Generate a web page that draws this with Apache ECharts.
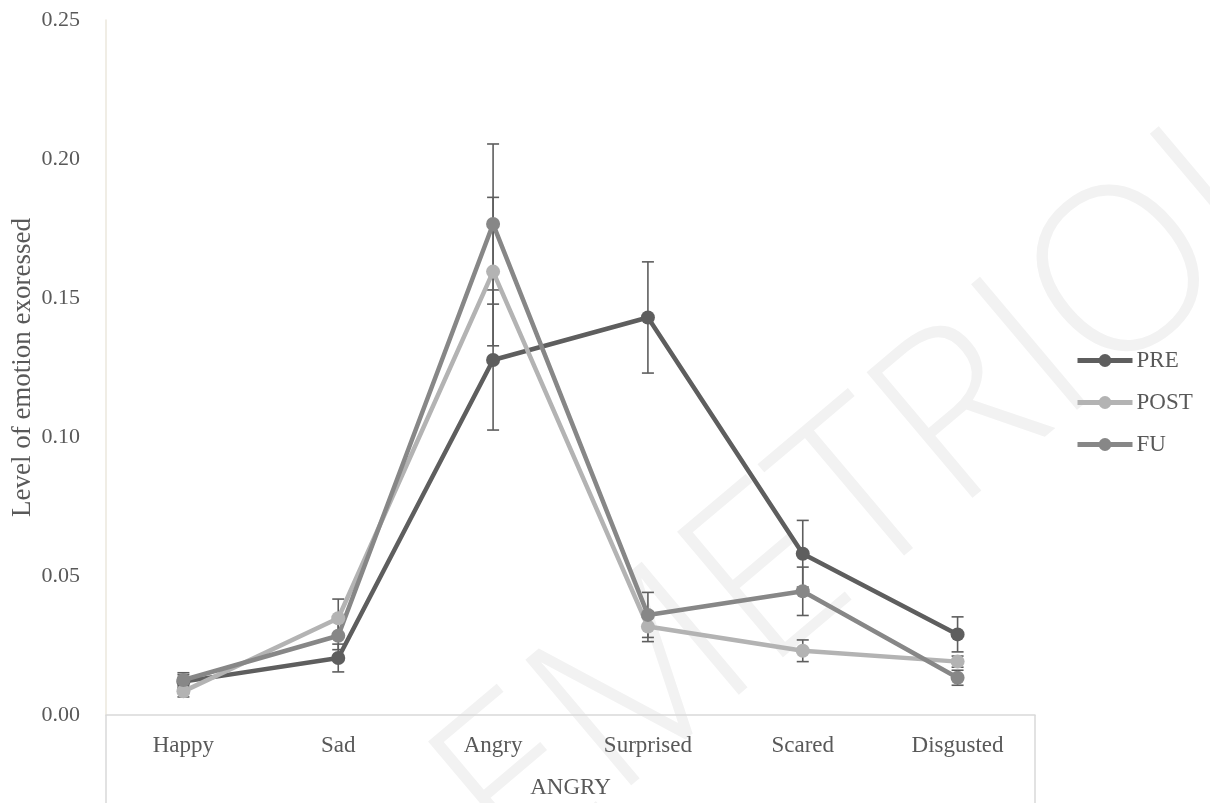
<!DOCTYPE html>
<html>
<head>
<meta charset="utf-8">
<script src="https://cdn.jsdelivr.net/npm/echarts@6/dist/echarts.min.js"></script>
<style>html,body{margin:0;padding:0;background:#fff;}#c{width:1210px;height:803px;}</style>
</head>
<body>
<div id="c"></div>
<script>
var categories = ['Happy', 'Sad', 'Angry', 'Surprised', 'Scared', 'Disgusted'];
var seriesNames = ['PRE', 'POST', 'FU'];
var preValues  = [0.0120, 0.0205, 0.1277, 0.1430, 0.0580, 0.0290];
var preErr     = [0.0025, 0.0050, 0.0252, 0.0200, 0.0120, 0.0063];
var postValues = [0.0085, 0.0348, 0.1595, 0.0318, 0.0231, 0.0192];
var postErr    = [0.0020, 0.0069, 0.0267, 0.0054, 0.0039, 0.0020];
var fuValues   = [0.0126, 0.0285, 0.1766, 0.0360, 0.0445, 0.0134];
var fuErr      = [0.0026, 0.0050, 0.0288, 0.0081, 0.0087, 0.0027];
var yTicks = { min: 0, max: 0.25, interval: 0.05 };
var xTitle = 'ANGRY';
var yTitle = 'Level of emotion exoressed';
var watermark = 'EMETRIOL';

var colors = ['#5e5e5e', '#b3b3b3', '#878787'];
var FONT = 'Liberation Serif';
var TXT = '#595959';

function errData(vals, errs) {
  return vals.map(function (v, i) { return [i, v, errs[i]]; });
}
function errSeries(vals, errs) {
  return {
    type: 'custom',
    z: 1,
    silent: true,
    data: errData(vals, errs),
    encode: { x: 0, y: 1 },
    renderItem: function (params, api) {
      var x = api.value(0), y = api.value(1), e = api.value(2);
      var top = api.coord([x, y + e]);
      var bot = api.coord([x, y - e]);
      var w = 6;
      var st = { stroke: '#5e5e5e', lineWidth: 1.6 };
      return {
        type: 'group',
        children: [
          { type: 'line', shape: { x1: top[0], y1: top[1], x2: bot[0], y2: bot[1] }, style: st },
          { type: 'line', shape: { x1: top[0] - w, y1: top[1], x2: top[0] + w, y2: top[1] }, style: st },
          { type: 'line', shape: { x1: bot[0] - w, y1: bot[1], x2: bot[0] + w, y2: bot[1] }, style: st }
        ]
      };
    }
  };
}
function lineSeries(name, vals, color) {
  return {
    name: name,
    type: 'line',
    z: 3,
    data: vals,
    symbol: 'circle',
    symbolSize: 14,
    lineStyle: { width: 4.5, color: color },
    itemStyle: { color: color },
    emphasis: { disabled: true }
  };
}

var chart = echarts.init(document.getElementById('c'));
chart.setOption({
  animation: false,
  backgroundColor: '#fff',
  textStyle: { fontFamily: FONT },
  grid: { left: 106, right: 175, top: 20, bottom: 88, containLabel: false, outerBoundsMode: 'none' },
  legend: {
    orient: 'vertical',
    left: 1075,
    top: 349,
    padding: 0,
    itemWidth: 55,
    itemHeight: 16,
    itemGap: 19,
    data: seriesNames,
    lineStyle: { width: 5 },
    textStyle: { fontFamily: FONT, fontSize: 23, lineHeight: 22, color: TXT, padding: [0, 0, 0, -1] }
  },
  xAxis: {
    type: 'category',
    data: categories,
    boundaryGap: true,
    axisLine: { lineStyle: { color: '#d9d9d9', width: 1.5 } },
    axisTick: { show: false },
    axisLabel: { fontFamily: FONT, fontSize: 23, color: TXT, margin: 19 },
    name: xTitle,
    nameLocation: 'middle',
    nameGap: 61,
    nameMoveOverlap: false,
    nameTextStyle: { fontFamily: FONT, fontSize: 23, color: TXT }
  },
  yAxis: {
    type: 'value',
    min: yTicks.min,
    max: yTicks.max,
    interval: yTicks.interval,
    axisLine: { show: true, lineStyle: { color: '#ebe7dc', width: 1.5 } },
    axisTick: { show: false },
    splitLine: { show: false },
    axisLabel: {
      fontFamily: FONT, fontSize: 22, color: TXT, margin: 26,
      formatter: function (v) { return v.toFixed(2); }
    },
    name: yTitle,
    nameLocation: 'middle',
    nameGap: 70,
    nameRotate: 90,
    nameMoveOverlap: false,
    nameTextStyle: { fontFamily: FONT, fontSize: 27, color: TXT }
  },
  graphic: [
    {
      type: 'text',
      z: -10,
      silent: true,
      x: 880, y: 490,
      rotation: 0.70,
      style: {
        text: watermark,
        fontFamily: 'Open Sans',
        fontWeight: 300,
        fontSize: 230,
        fill: '#f2f2f2',
        align: 'center',
        verticalAlign: 'middle'
      }
    },
    { type: 'line', z: 5, silent: true, shape: { x1: 106, y1: 715, x2: 106, y2: 803 }, style: { stroke: '#d9d9d9', lineWidth: 1.5 } },
    { type: 'line', z: 5, silent: true, shape: { x1: 1035, y1: 715, x2: 1035, y2: 803 }, style: { stroke: '#d9d9d9', lineWidth: 1.5 } }
  ],
  series: [
    errSeries(preValues, preErr),
    errSeries(postValues, postErr),
    errSeries(fuValues, fuErr),
    lineSeries(seriesNames[0], preValues, colors[0]),
    lineSeries(seriesNames[1], postValues, colors[1]),
    lineSeries(seriesNames[2], fuValues, colors[2])
  ]
});
</script>
</body>
</html>
